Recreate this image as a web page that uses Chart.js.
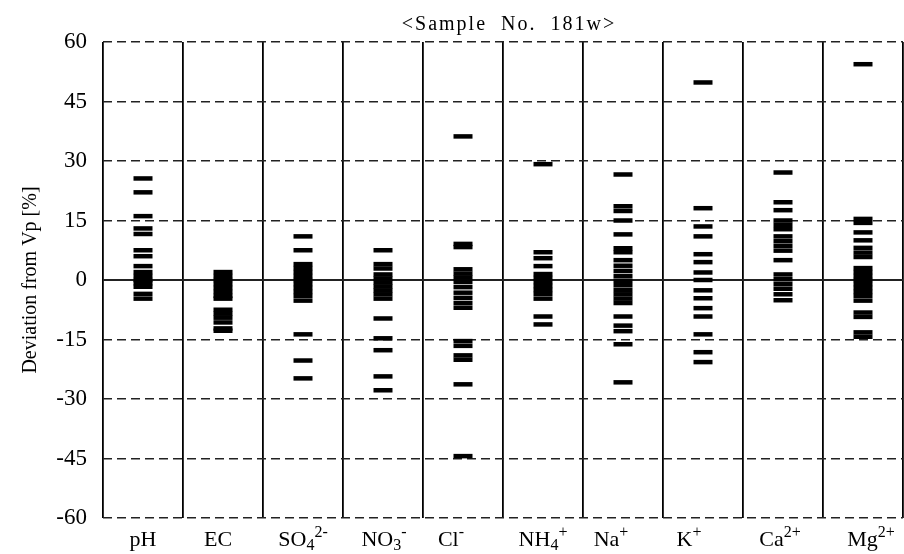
<!DOCTYPE html>
<html>
<head>
<meta charset="utf-8">
<script src="https://cdn.jsdelivr.net/npm/chart.js@4.4.1/dist/chart.umd.min.js"></script>
<style>
  html, body { margin: 0; padding: 0; background: #fff; }
</style>
</head>
<body>
<canvas id="myChart" width="904" height="554"></canvas>
<script>
// categories and how their labels are typeset: [main, subscript, superscript]
const categories = ["pH", "EC", "SO4", "NO3", "Cl", "NH4", "Na", "K", "Ca", "Mg"];
const labelParts = [
  ["pH", "", ""], ["EC", "", ""], ["SO", "4", "2-"], ["NO", "3", "-"], ["Cl", "", "-"],
  ["NH", "4", "+"], ["Na", "", "+"], ["K", "", "+"], ["Ca", "", "2+"], ["Mg", "", "2+"],
];
const yTicks = [-60, -45, -30, -15, 0, 15, 30, 45, 60];

// deviation from Vp [%], one value per lab
const pH = [25.6, 22.1, 16.1, 13, 11.6, 7.5, 6, 3.5, 2, 1, 0, -0.8, -1.7, -3.5, -4.7];
const EC = [2, 1, 0, -1, -2, -3, -4, -4.7, -7.5, -8.5, -9.5, -10.7, -12.2, -12.8];
const SO4 = [11, 7.5, 4, 3, 2, 1, 0, -1, -2, -3, -4, -5.2, -13.7, -20.3, -24.8];
const NO3 = [7.5, 4, 2.9, 1.4, 0.4, -0.6, -1.6, -2.6, -3.6, -4.7, -9.7, -14.7, -17.7, -24.3, -27.8];
const Cl = [36.2, 9.1, 8.3, 2.7, 1.6, 0.6, -0.5, -1.8, -3.2, -4.5, -5.8, -7, -15.4, -16.6, -19, -20.1, -26.3, -44.4];
const NH4 = [29.2, 7, 5.5, 3.5, 1.5, 0.5, -0.5, -1.5, -2.5, -3.5, -4.7, -9.2, -11.2];
const Na = [26.6, 18.6, 17.4, 15, 11.5, 8, 7, 5, 3.6, 2.3, 1, -0.2, -1.3, -2.5, -3.6, -4.7, -5.8, -9.2, -11.5, -12.9, -16.2, -25.8];
const K = [49.8, 18.1, 13.5, 11, 6.5, 4.5, 1.9, 0, -2.6, -4.6, -7.1, -9.2, -13.7, -18.2, -20.7];
const Ca = [27.1, 19.6, 17.6, 15, 13.9, 12.8, 11, 9.8, 8.6, 7.4, 5, 1.4, 0.2, -1, -2.2, -3.6, -5.1];
const Mg = [54.4, 15.4, 14.4, 12, 10, 8.1, 6.9, 5.8, 3, 2, 1, 0, -1, -2, -3, -4, -5.2, -8.2, -9.3, -13.2, -14.3];

const series = [pH, EC, SO4, NO3, Cl, NH4, Na, K, Ca, Mg];
const FONT = '"Liberation Serif", "Times New Roman", serif';
// labels in the original sit a bit off their column centre
const labelShift = [0, -5, 0, 1, -12, 0, -12, -14, -3, 8];

// title and sub/superscripted category names
const textPlugin = {
  id: "texts",
  afterDraw(chart) {
    const { ctx, chartArea } = chart;
    const xs = chart.scales.x;
    ctx.save();
    ctx.fillStyle = "#000";
    ctx.textBaseline = "alphabetic";

    ctx.font = "20px " + FONT;
    ctx.textAlign = "center";
    ctx.letterSpacing = "2px";
    ctx.fillText("<Sample  No.  181w>", (chartArea.left + chartArea.right) / 2 + 6, 30);
    ctx.letterSpacing = "0px";

    ctx.textAlign = "left";
    const mainFont = "22px " + FONT;
    const smallFont = "16px " + FONT;
    const base = chartArea.bottom + 28;
    labelParts.forEach((p, i) => {
      ctx.font = mainFont;
      const w0 = ctx.measureText(p[0]).width;
      ctx.font = smallFont;
      const w1 = ctx.measureText(p[1]).width;
      const w2 = ctx.measureText(p[2]).width;
      let x = xs.getPixelForValue(i) + labelShift[i] - (w0 + w1 + w2) / 2;
      ctx.font = mainFont;
      ctx.fillText(p[0], x, base);
      x += w0;
      ctx.font = smallFont;
      ctx.fillText(p[1], x, base + 4);
      x += w1;
      ctx.fillText(p[2], x, base - 9);
    });
    ctx.restore();
  },
};

new Chart(document.getElementById("myChart"), {
  type: "scatter",
  data: {
    datasets: series.map((vals, i) => ({
      label: categories[i],
      data: vals.map((v) => ({ x: i, y: v })),
      pointStyle: "line",
      pointRadius: 9.5,
      pointBorderWidth: 4.5,
      pointBorderColor: "#000",
      pointBackgroundColor: "#000",
      showLine: false,
    })),
  },
  options: {
    responsive: false,
    animation: false,
    devicePixelRatio: 1,
    events: [],
    layout: { autoPadding: false, padding: { top: 42, right: 1, bottom: 0, left: 0 } },
    plugins: { legend: { display: false }, tooltip: { enabled: false } },
    scales: {
      x: {
        type: "linear",
        min: -0.5,
        max: 9.5,
        afterBuildTicks: (s) => {
          s.ticks = categories.concat([""]).map((c, i) => ({ value: i - 0.5 }));
        },
        afterFit: (s) => { s.height = 36; },
        ticks: { display: false },
        grid: { color: "#000", lineWidth: 1.8, drawTicks: false },
        border: { display: false },
      },
      y: {
        min: -60,
        max: 60,
        afterBuildTicks: (s) => { s.ticks = yTicks.map((v) => ({ value: v })); },
        afterFit: (s) => { s.width = 103; },
        ticks: { color: "#000", font: { family: FONT, size: 23 }, padding: 16 },
        grid: {
          color: "#222",
          lineWidth: (c) => (c.tick && c.tick.value === 0 ? 2 : 1.4),
          drawTicks: false,
        },
        border: {
          display: false,
          dash: (c) => (c.tick && c.tick.value !== 0 ? [9, 5] : []),
        },
        title: {
          display: true,
          text: "Deviation from Vp [%]",
          color: "#000",
          font: { family: FONT, size: 20 },
          padding: { top: 19, bottom: 0 },
        },
      },
    },
  },
  plugins: [textPlugin],
});
</script>
</body>
</html>
